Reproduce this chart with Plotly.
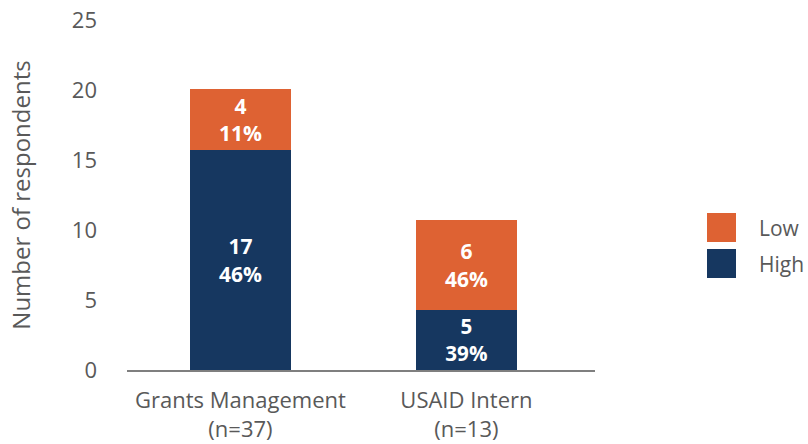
import plotly.graph_objects as go

categories = ["Grants Management<br>(n=37)", "USAID Intern<br>(n=13)"]
high_values = [15.7, 4.3]
low_values = [4.4, 6.4]
high_labels = ["17<br>46%", "5<br>39%"]
low_labels = ["4<br>11%", "6<br>46%"]
series_names = ["Low", "High"]
y_ticks = [0, 5, 10, 15, 20, 25]

ORANGE = "#DE6233"
NAVY = "#163760"
GREY = "#595959"
FONT = "Open Sans"

xpos = list(range(len(categories)))

fig = go.Figure()
for vals, labels, col, nm in [(high_values, high_labels, NAVY, "High"),
                              (low_values, low_labels, ORANGE, "Low")]:
    fig.add_trace(go.Bar(
        x=xpos, y=vals, name=nm, marker=dict(color=col, line_width=0), width=0.447,
        text=labels, textposition="inside", insidetextanchor="middle", textangle=0,
        textfont=dict(family=FONT, size=21, color="white", weight="bold"),
        showlegend=False, hoverinfo="skip"))

L, R, T, B = 127, 213, 20, 74
W, H = 808, 444
pw, ph = W - L - R, H - T - B

def px(x):
    return (x - L) / pw

def py(y):
    return (H - B - y) / ph

# manual legend
legend_items = [(series_names[0], ORANGE, 213), (series_names[1], NAVY, 249)]
for name, col, top in legend_items:
    fig.add_shape(type="rect", xref="paper", yref="paper",
                  x0=px(707), x1=px(736), y0=py(top + 29), y1=py(top),
                  fillcolor=col, line_width=0)
    fig.add_annotation(xref="paper", yref="paper", x=px(757), y=py(top + 14.5),
                       text=name, showarrow=False, xanchor="left", yanchor="middle",
                       font=dict(family=FONT, size=21, color=GREY))

fig.update_layout(
    barmode="stack",
    width=W, height=H,
    margin=dict(l=L, r=R, t=T, b=B, pad=0),
    plot_bgcolor="white", paper_bgcolor="white",
    font=dict(family=FONT, color=GREY),
    xaxis=dict(tickvals=xpos, ticktext=categories, range=[-0.502, 1.569],
               showline=True, linecolor="#7f7f7f", linewidth=1.5,
               showgrid=False, zeroline=False, ticks="", automargin=False,
               ticklabelstandoff=10,
               tickfont=dict(family=FONT, size=22, color=GREY)),
    yaxis=dict(range=[0, 25], tickvals=y_ticks, showgrid=False, zeroline=False,
               showline=False, ticks="", ticklabelstandoff=29, automargin=False,
               tickfont=dict(family=FONT, size=22, color=GREY),
               title=dict(text="Number of respondents", standoff=34,
                          font=dict(family=FONT, size=24, color=GREY))),
)

fig.write_html("out.html", config={"displayModeBar": False},
               post_script="document.body.style.margin='0';document.body.style.overflow='hidden';")
